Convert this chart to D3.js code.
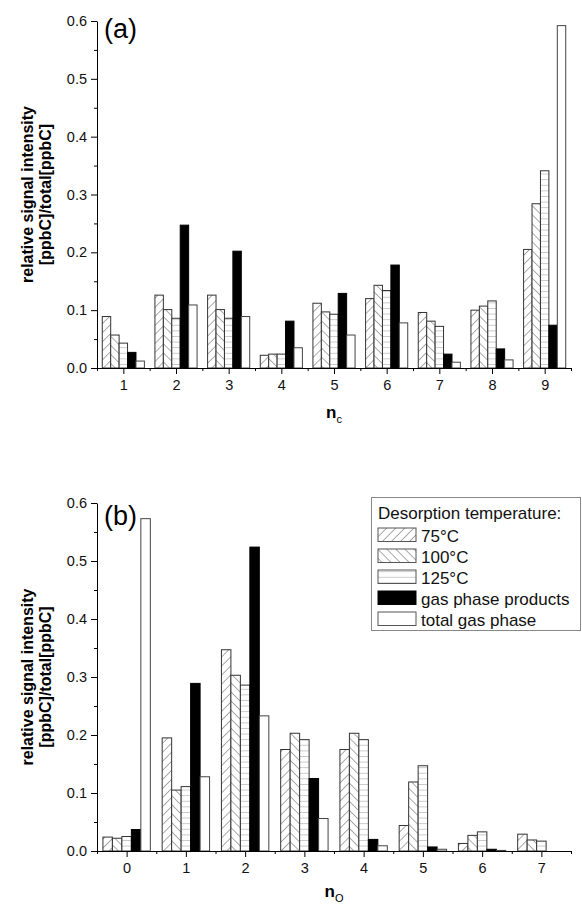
<!DOCTYPE html>
<html>
<head>
<meta charset="utf-8">
<script src="https://cdn.jsdelivr.net/npm/d3@7"></script>
<style>
  html, body { margin: 0; padding: 0; background: #fff; }
  svg { display: block; font-family: "Liberation Sans", Arial, sans-serif; }
</style>
</head>
<body>
<svg id="chart" width="582" height="907"></svg>
<script>
// ---------- data ----------
const seriesNames = ["75°C", "100°C", "125°C", "gas phase products", "total gas phase"];
const legendTitle = "Desorption temperature:";

const categoriesA = [1, 2, 3, 4, 5, 6, 7, 8, 9];
const a75    = [0.089, 0.126, 0.126, 0.022, 0.112, 0.120, 0.096, 0.100, 0.205];
const a100   = [0.057, 0.101, 0.101, 0.024, 0.097, 0.143, 0.081, 0.107, 0.284];
const a125   = [0.043, 0.086, 0.086, 0.024, 0.093, 0.134, 0.072, 0.116, 0.341];
const aGas   = [0.027, 0.247, 0.202, 0.081, 0.129, 0.178, 0.024, 0.033, 0.074];
const aTotal = [0.012, 0.109, 0.089, 0.035, 0.057, 0.078, 0.010, 0.014, 0.592];

const categoriesB = [0, 1, 2, 3, 4, 5, 6, 7];
const b75    = [0.024, 0.195, 0.347, 0.175, 0.175, 0.044, 0.013, 0.029];
const b100   = [0.022, 0.105, 0.303, 0.203, 0.203, 0.119, 0.027, 0.019];
const b125   = [0.025, 0.111, 0.286, 0.192, 0.192, 0.147, 0.033, 0.017];
const bGas   = [0.037, 0.289, 0.524, 0.125, 0.020, 0.007, 0.003, 0.000];
const bTotal = [0.573, 0.128, 0.233, 0.056, 0.009, 0.003, 0.001, 0.000];

const yTicks = [0, 0.1, 0.2, 0.3, 0.4, 0.5, 0.6];
const yTitle = ["relative signal intensity", "[ppbC]/total[ppbC]"];

// ---------- setup ----------
const svg = d3.select("#chart");
const defs = svg.append("defs");

function hatch(id, angle, spacing, color, width) {
  const p = defs.append("pattern")
    .attr("id", id)
    .attr("patternUnits", "userSpaceOnUse")
    .attr("width", spacing).attr("height", spacing)
    .attr("patternTransform", `rotate(${angle})`);
  p.append("rect").attr("width", spacing).attr("height", spacing).attr("fill", "#fff");
  p.append("line").attr("x1", 0).attr("y1", 0).attr("x2", 0).attr("y2", spacing)
    .attr("stroke", color).attr("stroke-width", width);
}
hatch("p75", 45, 6.4, "#444", 0.9);
hatch("p100", -45, 6.4, "#444", 0.9);
hatch("p125", 90, 5.6, "#999", 1);

const fills = ["url(#p75)", "url(#p100)", "url(#p125)", "#000", "#fff"];
const strokes = ["#333", "#333", "#333", "#000", "#444"];

function panel(opts) {
  const { cats, series, domain, yTop, yBot, label, labelY, xTitleSub, xTitleY } = opts;
  const x0 = 97, x1 = 571;
  const x = d3.scaleLinear().domain(domain).range([x0, x1]);
  const y = d3.scaleLinear().domain([0, 0.6]).range([yBot, yTop]);
  const step = x(1) - x(0);
  const g = svg.append("g");

  // bars
  series.forEach((vals, si) => {
    g.append("g").selectAll("rect")
      .data(cats.map((c, i) => ({ c, v: vals[i] })))
      .join("rect")
      .attr("x", d => x(d.c - 0.4 + 0.16 * si))
      .attr("width", 0.16 * step)
      .attr("y", d => y(d.v))
      .attr("height", d => y(0) - y(d.v))
      .attr("fill", fills[si])
      .attr("stroke", d => d.v > 0 ? strokes[si] : "none")
      .attr("stroke-width", 1);
  });

  // y axis
  const ya = g.append("g").attr("transform", `translate(${x0},0)`)
    .call(d3.axisLeft(y).tickValues(yTicks).tickFormat(d3.format(".1f")).tickSize(6).tickSizeOuter(0).tickPadding(4));
  ya.append("g").call(d3.axisLeft(y).tickValues(d3.range(0.05, 0.6, 0.1)).tickFormat("").tickSize(3).tickSizeOuter(0))
    .select(".domain").remove();
  // x axis
  const minor = d3.range(domain[0], domain[1] + 0.01, 1);
  const xa = g.append("g").attr("transform", `translate(0,${yBot})`)
    .call(d3.axisBottom(x).tickValues(cats).tickFormat(d3.format("d")).tickSize(6).tickSizeOuter(0).tickPadding(6));
  xa.append("g").call(d3.axisBottom(x).tickValues(minor).tickFormat("").tickSize(3).tickSizeOuter(0))
    .select(".domain").remove();
  g.selectAll(".tick text").attr("font-size", 14.5).attr("fill", "#111")
    .attr("font-family", "'Liberation Sans', Arial, sans-serif");
  g.selectAll(".domain, .tick line").attr("stroke", "#000").attr("stroke-width", 1);

  // panel label
  g.append("text").attr("x", 104).attr("y", labelY).attr("font-size", 27).attr("fill", "#000").text(label);

  // y title
  const cy = (yTop + yBot) / 2;
  const yt = g.append("g").attr("transform", `translate(27,${cy}) rotate(-90)`);
  yt.append("text").attr("text-anchor", "middle").attr("dominant-baseline", "central")
    .attr("font-weight", "bold").attr("font-size", 16).text(yTitle[0]);
  yt.append("text").attr("text-anchor", "middle").attr("dominant-baseline", "central").attr("y", 18)
    .attr("font-weight", "bold").attr("font-size", 16).text(yTitle[1]);

  // x title
  const xt = g.append("text").attr("x", (x0 + x1) / 2).attr("y", xTitleY).attr("text-anchor", "middle")
    .attr("font-weight", "bold").attr("font-size", 17);
  xt.append("tspan").text("n");
  xt.append("tspan").attr("dy", 5).attr("font-size", 11).attr("font-weight", "normal").text(xTitleSub);
  return { x, y };
}

panel({ cats: categoriesA, series: [a75, a100, a125, aGas, aTotal], domain: [0.5, 9.5],
        yTop: 21, yBot: 368, label: "(a)", labelY: 38, xTitleSub: "c", xTitleY: 418 });
panel({ cats: categoriesB, series: [b75, b100, b125, bGas, bTotal], domain: [-0.5, 7.5],
        yTop: 503, yBot: 851, label: "(b)", labelY: 525, xTitleSub: "O", xTitleY: 897 });

// legend
const lg = svg.append("g");
lg.append("rect").attr("x", 371.5).attr("y", 497.5).attr("width", 209).attr("height", 133)
  .attr("fill", "#fff").attr("stroke", "#888").attr("stroke-width", 1);
lg.append("text").attr("x", 378).attr("y", 519).attr("font-size", 17).attr("fill", "#111").text(legendTitle);
seriesNames.forEach((name, i) => {
  const top = 528 + i * 21;
  lg.append("rect").attr("x", 378).attr("y", top).attr("width", 38).attr("height", 13.5)
    .attr("fill", fills[i]).attr("stroke", i === 3 ? "#000" : "#555").attr("stroke-width", 1);
  lg.append("text").attr("x", 421).attr("y", top + 13.5).attr("font-size", 17).attr("fill", "#111").text(name);
});
</script>
</body>
</html>
